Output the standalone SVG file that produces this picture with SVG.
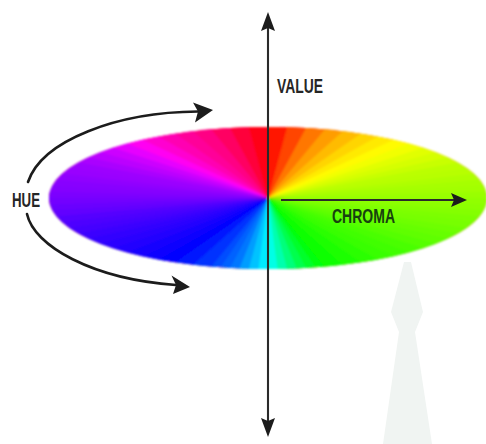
<svg xmlns="http://www.w3.org/2000/svg" width="486" height="444" viewBox="0 0 486 444">
<defs>
<style>
.lbl{font-family:"Liberation Sans Narrow","Liberation Sans",Arial,sans-serif;font-weight:bold;font-size:20px;fill:#262626}
.axis{stroke:#2a2a2a;stroke-width:2.1;fill:none}
.hue{stroke:#1c1c1c;stroke-width:2.6;fill:none;stroke-linecap:round}
.head{fill:#1c1c1c}
</style>
<filter id="soft" x="-5%" y="-10%" width="110%" height="120%"><feGaussianBlur stdDeviation="1"/></filter>
</defs>
<rect width="486" height="444" fill="#ffffff"/>
<g id="watermark"><path d="M404,262 L411,262 L423,312 L415,332 L432,444 L383,444 L399,332 L391,312 Z" fill="#f0f4f2"/></g>
<g id="wheel" filter="url(#soft)">
<g transform="translate(268,198) scale(219,71)">
<ellipse cx="0" cy="0" rx="1" ry="1" fill="hsl(0,100%,50%)"/>
<path d="M0 0L0 -1A1 1 0 0 1 .1736 -.9848Z" fill="hsl(5,100%,50%)"/>
<path d="M0 0L.0872 -.9962A1 1 0 0 1 .2588 -.9659Z" fill="hsl(16,100%,50%)"/>
<path d="M0 0L.1736 -.9848A1 1 0 0 1 .342 -.9397Z" fill="hsl(28,100%,50%)"/>
<path d="M0 0L.2588 -.9659A1 1 0 0 1 .4226 -.9063Z" fill="hsl(37,100%,50%)"/>
<path d="M0 0L.342 -.9397A1 1 0 0 1 .5 -.866Z" fill="hsl(44,100%,50%)"/>
<path d="M0 0L.4226 -.9063A1 1 0 0 1 .5736 -.8192Z" fill="hsl(50,100%,50%)"/>
<path d="M0 0L.5 -.866A1 1 0 0 1 .6428 -.766Z" fill="hsl(55,100%,50%)"/>
<path d="M0 0L.5736 -.8192A1 1 0 0 1 .7071 -.7071Z" fill="hsl(59,100%,50%)"/>
<path d="M0 0L.6428 -.766A1 1 0 0 1 .766 -.6428Z" fill="hsl(63,100%,50%)"/>
<path d="M0 0L.7071 -.7071A1 1 0 0 1 .8192 -.5736Z" fill="hsl(67,100%,50%)"/>
<path d="M0 0L.766 -.6428A1 1 0 0 1 .866 -.5Z" fill="hsl(70,100%,50%)"/>
<path d="M0 0L.8192 -.5736A1 1 0 0 1 .9063 -.4226Z" fill="hsl(73,100%,50%)"/>
<path d="M0 0L.866 -.5A1 1 0 0 1 .9397 -.342Z" fill="hsl(76,100%,50%)"/>
<path d="M0 0L.9063 -.4226A1 1 0 0 1 .9659 -.2588Z" fill="hsl(77,100%,50%)"/>
<path d="M0 0L.9397 -.342A1 1 0 0 1 .9848 -.1736Z" fill="hsl(79,100%,50%)"/>
<path d="M0 0L.9659 -.2588A1 1 0 0 1 .9962 -.0872Z" fill="hsl(81,100%,50%)"/>
<path d="M0 0L.9848 -.1736A1 1 0 0 1 1 0Z" fill="hsl(82,100%,50%)"/>
<path d="M0 0L.9962 -.0872A1 1 0 0 1 .9962 .0872Z" fill="hsl(84,100%,50%)"/>
<path d="M0 0L1 0A1 1 0 0 1 .9848 .1736Z" fill="hsl(86,100%,50%)"/>
<path d="M0 0L.9962 .0872A1 1 0 0 1 .9659 .2588Z" fill="hsl(87,100%,50%)"/>
<path d="M0 0L.9848 .1736A1 1 0 0 1 .9397 .342Z" fill="hsl(89,100%,50%)"/>
<path d="M0 0L.9659 .2588A1 1 0 0 1 .9063 .4226Z" fill="hsl(91,100%,50%)"/>
<path d="M0 0L.9397 .342A1 1 0 0 1 .866 .5Z" fill="hsl(92,100%,50%)"/>
<path d="M0 0L.9063 .4226A1 1 0 0 1 .8192 .5736Z" fill="hsl(94,100%,50%)"/>
<path d="M0 0L.866 .5A1 1 0 0 1 .766 .6428Z" fill="hsl(96,100%,50%)"/>
<path d="M0 0L.8192 .5736A1 1 0 0 1 .7071 .7071Z" fill="hsl(98,100%,50%)"/>
<path d="M0 0L.766 .6428A1 1 0 0 1 .6428 .766Z" fill="hsl(100,100%,50%)"/>
<path d="M0 0L.7071 .7071A1 1 0 0 1 .5736 .8192Z" fill="hsl(103,100%,50%)"/>
<path d="M0 0L.6428 .766A1 1 0 0 1 .5 .866Z" fill="hsl(105,100%,50%)"/>
<path d="M0 0L.5736 .8192A1 1 0 0 1 .4226 .9063Z" fill="hsl(107,100%,50%)"/>
<path d="M0 0L.5 .866A1 1 0 0 1 .342 .9397Z" fill="hsl(110,100%,50%)"/>
<path d="M0 0L.4226 .9063A1 1 0 0 1 .2588 .9659Z" fill="hsl(113,100%,50%)"/>
<path d="M0 0L.342 .9397A1 1 0 0 1 .2164 .9763Z" fill="hsl(116,100%,50%)"/>
<path d="M0 0L.2588 .9659A1 1 0 0 1 .1736 .9848Z" fill="hsl(122,100%,50%)"/>
<path d="M0 0L.2164 .9763A1 1 0 0 1 .1305 .9914Z" fill="hsl(130,100%,50%)"/>
<path d="M0 0L.1736 .9848A1 1 0 0 1 .0872 .9962Z" fill="hsl(138,100%,50%)"/>
<path d="M0 0L.1305 .9914A1 1 0 0 1 .0436 .999Z" fill="hsl(149,100%,50%)"/>
<path d="M0 0L.0872 .9962A1 1 0 0 1 0 1Z" fill="hsl(161,100%,50%)"/>
<path d="M0 0L.0436 .999A1 1 0 0 1 -.0436 .999Z" fill="hsl(174,100%,50%)"/>
<path d="M0 0L0 1A1 1 0 0 1 -.0872 .9962Z" fill="hsl(185,100%,50%)"/>
<path d="M0 0L-.0436 .999A1 1 0 0 1 -.1305 .9914Z" fill="hsl(194,100%,50%)"/>
<path d="M0 0L-.0872 .9962A1 1 0 0 1 -.1736 .9848Z" fill="hsl(203,100%,50%)"/>
<path d="M0 0L-.1305 .9914A1 1 0 0 1 -.2164 .9763Z" fill="hsl(212,100%,50%)"/>
<path d="M0 0L-.1736 .9848A1 1 0 0 1 -.2588 .9659Z" fill="hsl(217,100%,50%)"/>
<path d="M0 0L-.2164 .9763A1 1 0 0 1 -.342 .9397Z" fill="hsl(222,100%,50%)"/>
<path d="M0 0L-.2588 .9659A1 1 0 0 1 -.4226 .9063Z" fill="hsl(228,100%,50%)"/>
<path d="M0 0L-.342 .9397A1 1 0 0 1 -.5 .866Z" fill="hsl(234,100%,50%)"/>
<path d="M0 0L-.4226 .9063A1 1 0 0 1 -.5736 .8192Z" fill="hsl(240,100%,50%)"/>
<path d="M0 0L-.5 .866A1 1 0 0 1 -.6428 .766Z" fill="hsl(244,100%,50%)"/>
<path d="M0 0L-.5736 .8192A1 1 0 0 1 -.7071 .7071Z" fill="hsl(246,100%,50%)"/>
<path d="M0 0L-.6428 .766A1 1 0 0 1 -.766 .6428Z" fill="hsl(248,100%,50%)"/>
<path d="M0 0L-.7071 .7071A1 1 0 0 1 -.8192 .5736Z" fill="hsl(250,100%,50%)"/>
<path d="M0 0L-.766 .6428A1 1 0 0 1 -.866 .5Z" fill="hsl(252,100%,50%)"/>
<path d="M0 0L-.8192 .5736A1 1 0 0 1 -.9063 .4226Z" fill="hsl(254,100%,50%)"/>
<path d="M0 0L-.866 .5A1 1 0 0 1 -.9397 .342Z" fill="hsl(256,100%,50%)"/>
<path d="M0 0L-.9063 .4226A1 1 0 0 1 -.9659 .2588Z" fill="hsl(258,100%,50%)"/>
<path d="M0 0L-.9397 .342A1 1 0 0 1 -.9848 .1736Z" fill="hsl(260,100%,50%)"/>
<path d="M0 0L-.9659 .2588A1 1 0 0 1 -.9962 .0872Z" fill="hsl(263,100%,50%)"/>
<path d="M0 0L-.9848 .1736A1 1 0 0 1 -1 0Z" fill="hsl(265,100%,50%)"/>
<path d="M0 0L-.9962 .0872A1 1 0 0 1 -.9962 -.0872Z" fill="hsl(267,100%,50%)"/>
<path d="M0 0L-1 0A1 1 0 0 1 -.9848 -.1736Z" fill="hsl(269,100%,50%)"/>
<path d="M0 0L-.9962 -.0872A1 1 0 0 1 -.9659 -.2588Z" fill="hsl(271,100%,50%)"/>
<path d="M0 0L-.9848 -.1736A1 1 0 0 1 -.9397 -.342Z" fill="hsl(272,100%,50%)"/>
<path d="M0 0L-.9659 -.2588A1 1 0 0 1 -.9063 -.4226Z" fill="hsl(274,100%,50%)"/>
<path d="M0 0L-.9397 -.342A1 1 0 0 1 -.866 -.5Z" fill="hsl(276,100%,50%)"/>
<path d="M0 0L-.9063 -.4226A1 1 0 0 1 -.8192 -.5736Z" fill="hsl(277,100%,50%)"/>
<path d="M0 0L-.866 -.5A1 1 0 0 1 -.766 -.6428Z" fill="hsl(280,100%,50%)"/>
<path d="M0 0L-.8192 -.5736A1 1 0 0 1 -.7071 -.7071Z" fill="hsl(284,100%,50%)"/>
<path d="M0 0L-.766 -.6428A1 1 0 0 1 -.6428 -.766Z" fill="hsl(288,100%,50%)"/>
<path d="M0 0L-.7071 -.7071A1 1 0 0 1 -.5736 -.8192Z" fill="hsl(294,100%,50%)"/>
<path d="M0 0L-.6428 -.766A1 1 0 0 1 -.5 -.866Z" fill="hsl(303,100%,50%)"/>
<path d="M0 0L-.5736 -.8192A1 1 0 0 1 -.4226 -.9063Z" fill="hsl(311,100%,50%)"/>
<path d="M0 0L-.5 -.866A1 1 0 0 1 -.342 -.9397Z" fill="hsl(318,100%,50%)"/>
<path d="M0 0L-.4226 -.9063A1 1 0 0 1 -.2588 -.9659Z" fill="hsl(324,100%,50%)"/>
<path d="M0 0L-.342 -.9397A1 1 0 0 1 -.1736 -.9848Z" fill="hsl(329,100%,50%)"/>
<path d="M0 0L-.2588 -.9659A1 1 0 0 1 -.0872 -.9962Z" fill="hsl(337,100%,50%)"/>
<path d="M0 0L-.1736 -.9848A1 1 0 0 1 0 -1Z" fill="hsl(346,100%,50%)"/>
<path d="M0 0L-.0872 -.9962A1 1 0 0 1 0 -1Z" fill="hsl(355,100%,50%)"/>
</g>
</g>
<g id="connectors">
<g id="value-axis">
<line class="axis" x1="268" y1="28" x2="268" y2="422"/>
<path class="head" d="M268,12 L275,31 L268,28 L261,31 Z"/>
<path class="head" d="M268,437 L261,418 L268,421 L275,418 Z"/>
</g>
<g id="chroma-axis">
<line class="axis" x1="281" y1="200" x2="455" y2="200" stroke="#1d2a12"/>
<path class="head" d="M467,200 L451,193 L454,200 L451,207 Z"/>
</g>
<g id="hue-arrows">
<path class="hue" d="M28,182 C42,140 118,112 198,111.5"/>
<path class="head" d="M213,110 L193,102.5 L198,111.5 L195,122.5 Z"/>
<path class="hue" d="M27,214 C34,246 92,279 176,285"/>
<path class="head" d="M190,287 L171.5,275.5 L176,285 L173,294 Z"/>
</g>
</g>
<g id="label-value"><text class="lbl" x="277" y="93" textLength="46" lengthAdjust="spacingAndGlyphs">VALUE</text></g>
<g id="label-chroma"><text class="lbl" x="332" y="223" textLength="63" lengthAdjust="spacingAndGlyphs" style="fill:#17420f">CHROMA</text></g>
<g id="label-hue"><text class="lbl" x="12" y="207" textLength="28" lengthAdjust="spacingAndGlyphs">HUE</text></g>
</svg>
